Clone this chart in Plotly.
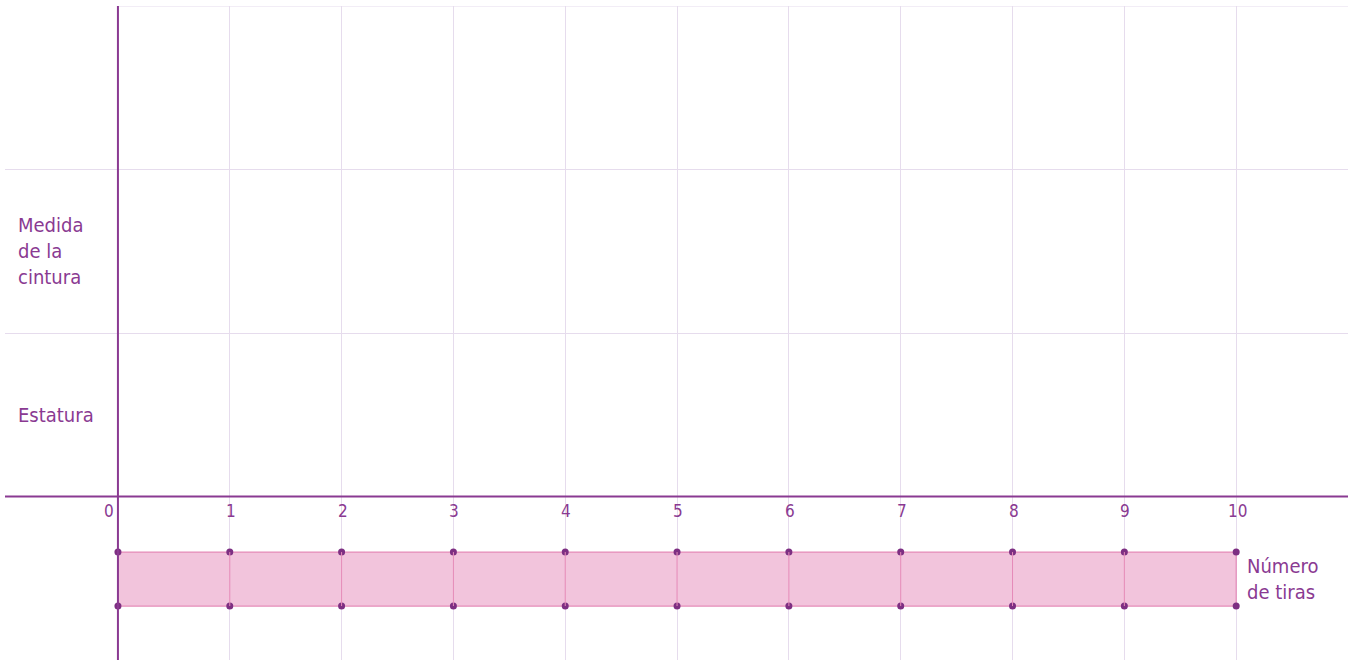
import plotly.graph_objects as go

# data
tiras = list(range(11))                 # 0..10 strips
tick_labels = [str(t) for t in tiras]
categorias = ["Estatura", "Medida<br>de la<br>cintura"]
categoria_pos = [0.5, 1.5]
tira_arriba = -0.34                     # the pink strip under the axis
tira_abajo = -0.67

PURPLE = "#8a3a92"
DOT = "#7d2f82"
GRID = "#e6dced"
PINK_FILL = "#f2c4dc"
PINK_LINE = "#e58bb8"
FONT = "Liberation Sans Narrow, DejaVu Sans Condensed, Roboto Condensed, sans-serif"


def fnt(size):
    return dict(family=FONT, size=size, color=PURPLE, weight=500)


fig = go.Figure()

# pink strip
fig.add_trace(go.Scatter(
    x=[tiras[0], tiras[-1], tiras[-1], tiras[0], tiras[0]],
    y=[tira_arriba, tira_arriba, tira_abajo, tira_abajo, tira_arriba],
    mode="lines", fill="toself", fillcolor=PINK_FILL,
    line=dict(color=PINK_LINE, width=1.2), hoverinfo="skip", showlegend=False,
))
# inner separations of the strip
for t in tiras[1:-1]:
    fig.add_shape(type="line", x0=t, x1=t, y0=tira_abajo, y1=tira_arriba,
                  line=dict(color=PINK_LINE, width=1), layer="above")

# dots on both edges
fig.add_trace(go.Scatter(
    x=tiras + tiras, y=[tira_arriba] * len(tiras) + [tira_abajo] * len(tiras),
    mode="markers", marker=dict(color=DOT, size=7),
    hoverinfo="skip", showlegend=False,
))

# top border line of the grid
fig.add_shape(type="line", x0=0, x1=11, y0=3, y1=3,
              line=dict(color=GRID, width=1.2), layer="below")
# main axes
fig.add_shape(type="line", x0=-1.1, x1=11.1, y0=0, y1=0,
              line=dict(color=PURPLE, width=2), layer="above")
fig.add_shape(type="line", x0=0, x1=0, y0=-1.1, y1=3,
              line=dict(color=PURPLE, width=2), layer="above")

# tick labels
for t, lab in zip(tiras, tick_labels):
    fig.add_annotation(x=t, y=0, yshift=-14, text=lab, showarrow=False,
                       xanchor="right" if t == 0 else "center",
                       xshift=-2 if t == 0 else 1,
                       font=fnt(17))

# category labels on the left
for c, p in zip(categorias, categoria_pos):
    fig.add_annotation(x=0, xref="paper", xshift=11, y=p, text=c, showarrow=False,
                       xanchor="left", align="left", font=fnt(20))

fig.add_annotation(x=10, y=(tira_arriba + tira_abajo) / 2, xshift=9,
                   text="Número<br>de tiras", showarrow=False,
                   xanchor="left", align="left", font=fnt(20))

fig.update_layout(
    width=1351, height=660,
    margin=dict(l=5, r=3, t=6, b=0),
    plot_bgcolor="white", paper_bgcolor="white",
    xaxis=dict(range=[-1.01, 11.0], tickvals=tiras, showticklabels=False,
               showgrid=True, gridcolor=GRID, gridwidth=1.2, zeroline=False),
    yaxis=dict(range=[-1.0, 3.0], tickvals=[1, 2], showticklabels=False,
               showgrid=True, gridcolor=GRID, gridwidth=1.2, zeroline=False),
)

# the page body has a default 8px margin; drop it so the figure sits at 0,0
fig.write_html("out.html", config={"displayModeBar": False},
               post_script="document.body.style.margin='0';")
